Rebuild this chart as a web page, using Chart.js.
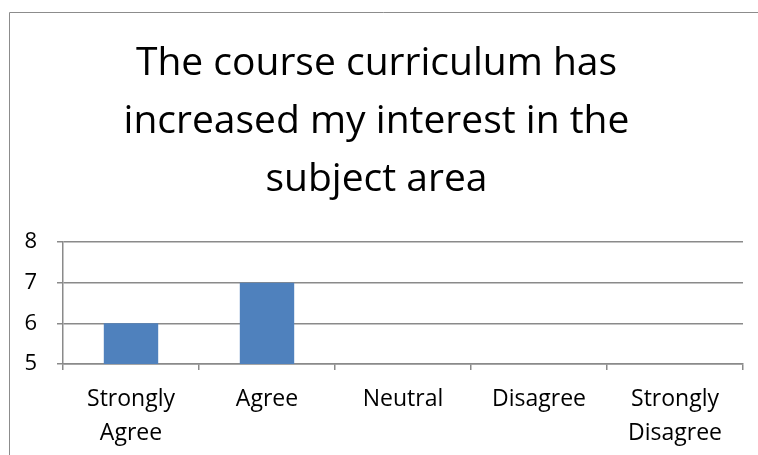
<!DOCTYPE html>
<html>
<head>
<meta charset="utf-8">
<script src="https://cdn.jsdelivr.net/npm/chart.js@4"></script>
<style>
  html, body { margin: 0; padding: 0; background: #fff; overflow: hidden; }
</style>
</head>
<body>
<canvas id="chart" width="758" height="455"></canvas>
<script>
const titleLines = ["The course curriculum has", "increased my interest in the", "subject area"];
const categories = [["Strongly", "Agree"], "Agree", "Neutral", "Disagree", ["Strongly", "Disagree"]];
const responses = [6, 7, 0, 0, 0];
const yMin = 5;
const yMax = 8;

const FONT = "'Open Sans', sans-serif";
const GRID = "#8a8a8a";

// outer chart frame: only the left and top edges fall inside the picture
const frame = {
  id: "frame",
  beforeDraw(chart) {
    const ctx = chart.ctx;
    ctx.save();
    ctx.strokeStyle = "#8c8c8c";
    ctx.lineWidth = 1;
    ctx.beginPath();
    ctx.moveTo(9.5, chart.height);
    ctx.lineTo(9.5, 12.5);
    ctx.lineTo(chart.width, 12.5);
    ctx.stroke();
    ctx.restore();
  },
};

new Chart(document.getElementById("chart"), {
  type: "bar",
  data: {
    labels: categories,
    datasets: [{
      data: responses,
      backgroundColor: "#4f81bd",
      barPercentage: 0.4,
      categoryPercentage: 1.0,
    }],
  },
  options: {
    responsive: false,
    animation: false,
    layout: { padding: { left: 10, right: 15, top: 0, bottom: 0 } },
    plugins: {
      legend: { display: false },
      tooltip: { enabled: false },
      title: {
        display: true,
        text: titleLines,
        color: "#000",
        font: { family: FONT, size: 39, weight: "normal", lineHeight: 58 / 39 },
        padding: { top: 35, bottom: 33 },
      },
    },
    scales: {
      x: {
        grid: { drawOnChartArea: false, drawTicks: true, tickLength: 6, color: GRID, lineWidth: 1.5, offset: true },
        border: { color: GRID, width: 1.5 },
        ticks: { color: "#000", font: { family: FONT, size: 23, lineHeight: 1.45 }, padding: 13, maxRotation: 0, autoSkip: false },
        afterFit: (scale) => { scale.height = 455 - 364; },
      },
      y: {
        min: yMin,
        max: yMax,
        grid: { color: GRID, lineWidth: 1.5, tickLength: 6 },
        border: { color: GRID, width: 1.5 },
        ticks: { stepSize: 1, color: "#000", font: { family: FONT, size: 22 }, padding: 20 },
        afterFit: (scale) => { scale.width = 53; },
      },
    },
  },
  plugins: [frame],
});
</script>
</body>
</html>
